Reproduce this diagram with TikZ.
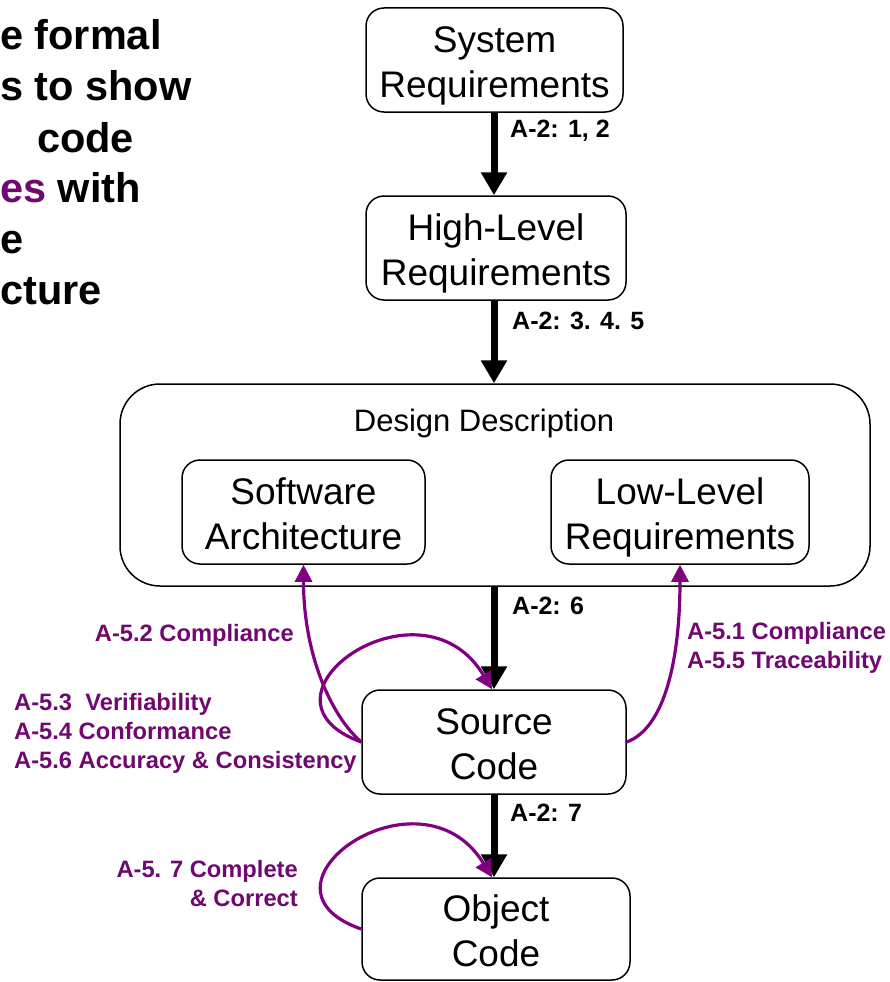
\documentclass[tikz,border=0pt]{standalone}
\usepackage{fontspec}
\setmainfont{Liberation Sans}
\usetikzlibrary{arrows.meta}
\definecolor{objpurple}{RGB}{128,0,128}
\definecolor{objtext}{RGB}{112,8,112}

\begin{document}
\begin{tikzpicture}[x=1pt,y=-1pt,
  box/.style={draw, line width=1.5pt, rounded corners=18pt, align=center,
    inner sep=0pt, text height=77pt, text depth=3pt,
    font=\fontsize{37}{45}\selectfont},
  flow/.style={line width=7pt, -{Triangle[length=23pt,width=25pt]}},
  flowlabel/.style={anchor=west, inner sep=0pt, font=\bfseries\fontsize{25}{30}\selectfont},
  obj/.style={objpurple, line width=3.2pt, -{Triangle[length=17pt,width=17pt]}},
  objlabel/.style={inner sep=0pt, text=objtext, font=\bfseries\fontsize{23.7}{29}\selectfont},
  headline/.style={anchor=base west, inner sep=0pt, font=\bfseries\fontsize{41.5}{50}\selectfont}]

\useasboundingbox (0,0) rectangle (890,982);

% heading text at the left
\node[headline] (t1) at (0,49)  {e formal};
\node[headline] (t2) at (0,100) {s to show};
\node[headline] (t3) at (37,152) {code};
\node[headline] (t4) at (0,202) {\textcolor{objtext}{es} with};
\node[headline] (t5) at (0,253) {e};
\node[headline] (t6) at (0,304) {cture};

% artefact boxes
\node[box, minimum width=257pt, minimum height=104pt] (sys) at (494.5,60) {System\\Requirements};
\node[box, minimum width=260pt, minimum height=104pt] (hlr) at (496,248) {High-Level\\Requirements};
\node[box, rounded corners=40pt, minimum width=750pt, minimum height=202pt, text height=0pt] (dd) at (495,485) {};
\node[inner sep=0pt, font=\fontsize{31}{37}\selectfont] (ddtitle) at (484,423) {Design Description};
\node[box, minimum width=243pt, minimum height=104pt] (swa) at (303.5,512) {Software\\Architecture};
\node[box, minimum width=258pt, minimum height=104pt] (llr) at (680,512) {Low-Level\\Requirements};
\node[box, minimum width=264pt, minimum height=104pt] (src) at (494,742) {Source\\Code};
\node[box, minimum width=268pt, minimum height=102pt] (objc) at (496,929) {Object\\Code};

% development flow
\draw[flow] (sys.south -| 494,0) -- (hlr.north -| 494,0);
\draw[flow] (hlr.south -| 494,0) -- (dd.north -| 494,0);
\draw[flow] (dd.south -| 494,0) -- (src.north -| 494,0);
\draw[flow] (src.south -| 494,0) -- (objc.north -| 494,0);

\node[flowlabel] (l1) at (510,131) {A-2: 1, 2};
\node[flowlabel] (l2) at (512,321) {A-2: 3. 4. 5};
\node[flowlabel] (l3) at (512,606) {A-2: 6};
\node[flowlabel] (l4) at (510,813) {A-2: 7};

% verification objectives
\draw[obj] (src.west) .. controls +(-30,-26) and +(0,90) .. (swa.south);
\draw[obj] (src.west) .. controls (240,698) and (420,570) .. (src.north -| 492,0);
\draw[obj] (src.east) .. controls +(38,-14) and +(0,95) .. (llr.south);
\draw[obj] (objc.west) .. controls (240,887) and (420,760) .. (objc.north -| 492,0);

\node[objlabel, anchor=east] (v1) at (294,635) {A-5.2 Compliance};
\node[objlabel, anchor=west, align=left] (v2) at (14,733)
  {A-5.3\ \ Verifiability\\A-5.4 Conformance\\A-5.6 Accuracy \& Consistency};
\node[objlabel, anchor=west, align=left] (v3) at (687,648)
  {A-5.1 Compliance\\A-5.5 Traceability};
\node[objlabel, anchor=east, align=right] (v4) at (298,884)
  {A-5. 7 Complete\\\& Correct};
\end{tikzpicture}
\end{document}
